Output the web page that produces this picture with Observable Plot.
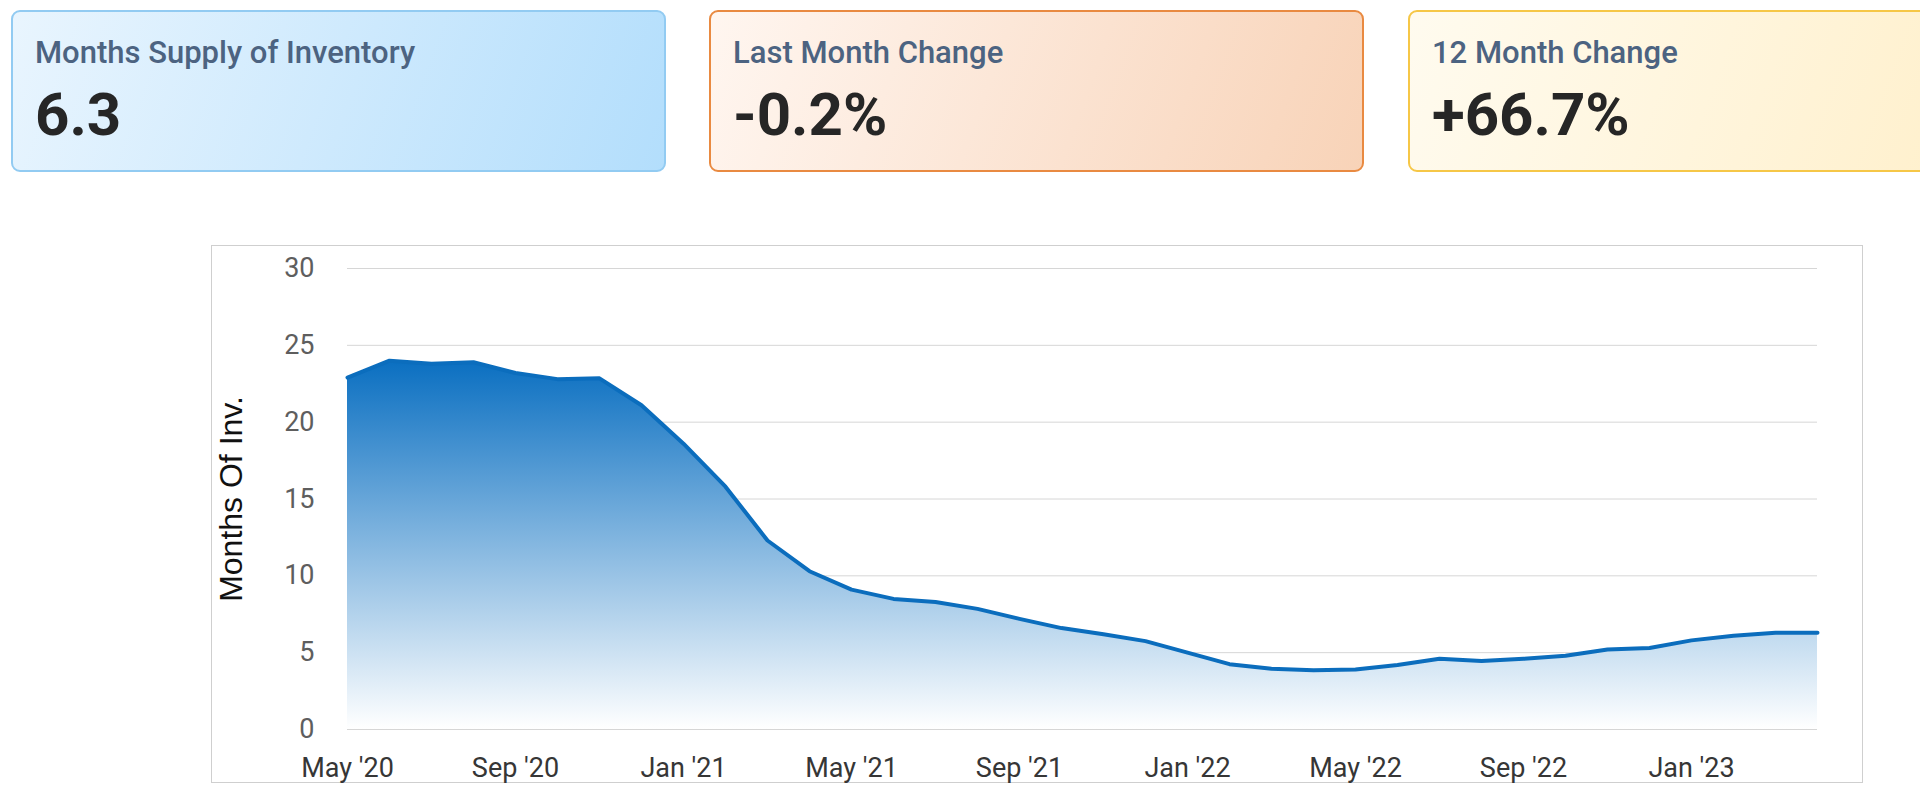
<!DOCTYPE html>
<html>
<head>
<meta charset="utf-8">
<script src="https://cdn.jsdelivr.net/npm/d3@7"></script>
<script src="https://cdn.jsdelivr.net/npm/@observablehq/plot@0.6"></script>
<style>
  html, body { margin: 0; padding: 0; background: #fff; }
  body { width: 1920px; height: 797px; overflow: hidden; position: relative; font-family: Roboto, "Noto Sans", sans-serif; }
  .card { position: absolute; top: 10px; width: 651px; height: 158px; border-radius: 9px; box-sizing: content-box; }
  .card .t { position: absolute; left: 22px; top: 23px; font-size: 31px; line-height: 1.172; font-weight: 500; color: #4c6381; white-space: nowrap; }
  .card .v { position: absolute; left: 22px; top: 68px; font-size: 60px; line-height: 1.172; font-weight: 700; color: #262626; white-space: nowrap; }
  #c1 { left: 11px; border: 2px solid #92cbf2; background: linear-gradient(110deg, #e9f5fe 0%, #b3defc 100%); }
  #c2 { left: 709px; border: 2px solid #e98a41; background: linear-gradient(110deg, #fff6f0 0%, #f8d3b8 100%); }
  #c3 { left: 1408px; border: 2px solid #f6c747; background: linear-gradient(110deg, #fffbef 0%, #ffeec6 100%); }
  #chart { position: absolute; left: 211px; top: 245px; width: 1650px; height: 536px; border: 1px solid #cfcfcf; }
</style>
</head>
<body>
<div class="card" id="c1"><div class="t"></div><div class="v"></div></div>
<div class="card" id="c2"><div class="t"></div><div class="v"></div></div>
<div class="card" id="c3"><div class="t"></div><div class="v"></div></div>
<div id="chart"></div>
<script>
const cardTitles = ["Months Supply of Inventory", "Last Month Change", "12 Month Change"];
const cardValues = ["6.3", "-0.2%", "+66.7%"];

const months = ["May '20","Jun '20","Jul '20","Aug '20","Sep '20","Oct '20","Nov '20","Dec '20",
  "Jan '21","Feb '21","Mar '21","Apr '21","May '21","Jun '21","Jul '21","Aug '21","Sep '21","Oct '21","Nov '21","Dec '21",
  "Jan '22","Feb '22","Mar '22","Apr '22","May '22","Jun '22","Jul '22","Aug '22","Sep '22","Oct '22","Nov '22","Dec '22",
  "Jan '23","Feb '23","Mar '23","Apr '23"];
const supply = [22.9, 24.0, 23.8, 23.9, 23.2, 22.8, 22.85, 21.1,
  18.6, 15.8, 12.3, 10.3, 9.1, 8.5, 8.3, 7.85, 7.2, 6.6, 6.2, 5.75,
  5.0, 4.25, 3.95, 3.85, 3.9, 4.2, 4.6, 4.45, 4.6, 4.8, 5.2, 5.3,
  5.8, 6.1, 6.3, 6.3];
const xTicks = ["May '20","Sep '20","Jan '21","May '21","Sep '21","Jan '22","May '22","Sep '22","Jan '23"];
const yTicks = [0, 5, 10, 15, 20, 25, 30];
const yLabel = "Months Of Inv.";

["c1","c2","c3"].forEach((id, i) => {
  const el = document.getElementById(id);
  el.querySelector(".t").textContent = cardTitles[i];
  el.querySelector(".v").textContent = cardValues[i];
});

const data = months.map((m, i) => ({month: m, value: supply[i]}));

const plot = Plot.plot({
  width: 1650,
  height: 536,
  marginLeft: 135,
  marginRight: 45,
  marginTop: 22,
  marginBottom: 53,
  style: {background: "transparent", fontFamily: "Roboto, sans-serif", overflow: "visible"},
  x: {type: "point", domain: months, padding: 0},
  y: {domain: [0, 30]},
  marks: [
    Plot.gridY(yTicks, {stroke: "#d6d6d6", strokeOpacity: 1, strokeWidth: 1}),
    Plot.areaY(data, {x: "month", y: "value", fill: "url(#areaGrad)", curve: "linear"}),
    Plot.lineY(data, {x: "month", y: "value", stroke: "#0b6dbd", strokeWidth: 4, curve: "linear"}),
    Plot.axisY(yTicks, {tickSize: 0, tickPadding: 33, fontSize: 27, fill: "#5e5e5e", label: null}),
    Plot.axisX(xTicks, {tickSize: 0, tickPadding: 28, fontSize: 27, fill: "#363636", label: null}),
    Plot.text([yLabel], {frameAnchor: "left", dx: -116, rotate: -90, fontSize: 32, textAnchor: "middle",
      fontFamily: "'Liberation Sans', Arial, sans-serif", fill: "#111", text: d => d})
  ]
});

const svg = d3.select(plot);
const defs = svg.insert("defs", ":first-child");
const g = defs.append("linearGradient").attr("id", "areaGrad")
  .attr("x1", 0).attr("y1", 0).attr("x2", 0).attr("y2", 1);
g.append("stop").attr("offset", "0%").attr("stop-color", "#0a6fc1");
g.append("stop").attr("offset", "100%").attr("stop-color", "#ffffff");

document.getElementById("chart").appendChild(plot);
</script>
</body>
</html>
